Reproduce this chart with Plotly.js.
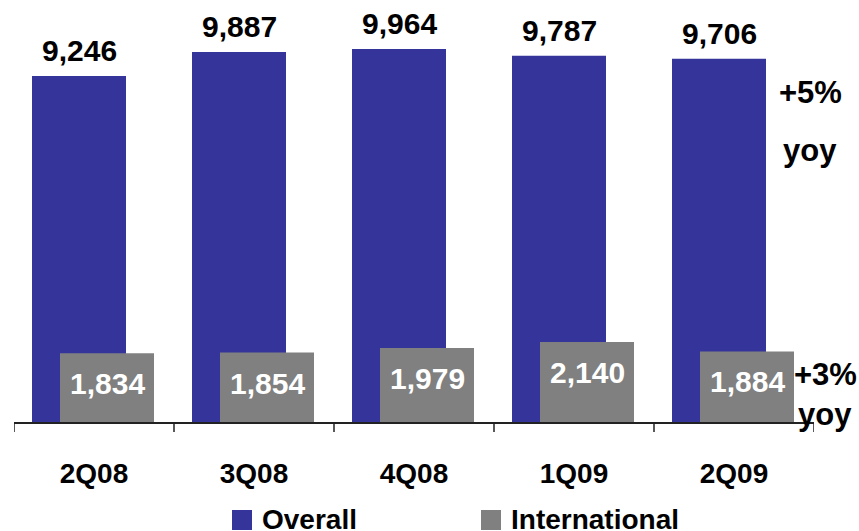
<!DOCTYPE html>
<html>
<head>
<meta charset="utf-8">
<script src="https://cdn.plot.ly/plotly-3.0.1.min.js"></script>
<style>html,body{margin:0;padding:0;background:#fff;}#chart{width:859px;height:531px;}</style>
</head>
<body>
<div id="chart"></div>
<script>
const categories = ["2Q08", "3Q08", "4Q08", "1Q09", "2Q09"];
const overall = [9246, 9887, 9964, 9787, 9706];
const international = [1834, 1854, 1979, 2140, 1884];
const overallLabels = ["9,246", "9,887", "9,964", "9,787", "9,706"];
const intlLabels = ["1,834", "1,854", "1,979", "2,140", "1,884"];
const seriesNames = ["Overall", "International"];
const sideNotes = ["+5%", "yoy", "+3%", "yoy"];

const BLUE = "#35349A";
const GRAY = "#808080";
const FONT = "Liberation Sans, Arial, sans-serif";
const W = 0.5875;
const blueOff = -0.3875, grayOff = -0.2125;
const px = v => (v - 14) / 800;
const py = v => (422 - v) / 422;

const idx = categories.map((c, i) => i);

const traces = [
  { type: "bar", x: idx, y: overall, name: seriesNames[0], width: W, offset: blueOff,
    marker: { color: BLUE, line: { width: 0 } }, hoverinfo: "skip" },
  { type: "bar", x: idx, y: international, name: seriesNames[1], width: W, offset: grayOff,
    marker: { color: GRAY, line: { width: 0 } }, hoverinfo: "skip" }
];

const annotations = [];
idx.forEach(i => {
  annotations.push({ x: i + blueOff + W / 2, y: overall[i], xref: "x", yref: "y",
    text: "<b>" + overallLabels[i] + "</b>", showarrow: false, yanchor: "bottom", yshift: 7,
    font: { family: FONT, size: 30, color: "#000" } });
  annotations.push({ x: i + grayOff + W / 2, y: international[i], xref: "x", yref: "y",
    text: "<b>" + intlLabels[i] + "</b>", showarrow: false, yanchor: "top", yshift: -12,
    font: { family: FONT, size: 30, color: "#fff" } });
});
const notePos = [[810, 92], [810, 150], [825, 374], [825, 414]];
sideNotes.forEach((t, k) => {
  annotations.push({ x: px(notePos[k][0]), y: py(notePos[k][1]), xref: "paper", yref: "paper",
    text: "<b>" + t + "</b>", showarrow: false, xanchor: "center", yanchor: "middle",
    font: { family: FONT, size: 31, color: "#000" } });
});
const legX = [[232, 260], [481, 509]];
const legColors = [BLUE, GRAY];
const shapes = [];
seriesNames.forEach((n, k) => {
  shapes.push({ type: "rect", xref: "paper", yref: "paper", x0: px(legX[k][0]), x1: px(legX[k][0] + 20),
    y0: py(530), y1: py(510), fillcolor: legColors[k], line: { width: 0 } });
  annotations.push({ x: px(legX[k][1]), y: py(519), xref: "paper", yref: "paper",
    text: "<b>" + n + "</b>", showarrow: false, xanchor: "left", yanchor: "middle",
    font: { family: FONT, size: 28, color: "#000" } });
});

const layout = {
  width: 859, height: 531,
  margin: { l: 14, r: 45, t: 0, b: 109 },
  paper_bgcolor: "#fff", plot_bgcolor: "#fff",
  barmode: "overlay",
  showlegend: false,
  xaxis: {
    type: "linear", range: [-0.5, 4.5], tickmode: "array", tickvals: idx, ticktext: categories,
    showgrid: false, zeroline: false, showline: true, linecolor: "#222", linewidth: 1.5,
    ticks: "", ticklabelstandoff: 26,
    tickfont: { family: FONT, size: 28, color: "#000", weight: "bold" },
    fixedrange: true
  },
  yaxis: { range: [0, 422 / 0.03743], visible: false, fixedrange: true },
  shapes: shapes.concat([-0.5, 0.5, 1.5, 2.5, 3.5, 4.5].map(b => ({
    type: "line", xref: "x", yref: "paper", x0: b, x1: b, y0: 0, y1: py(432),
    line: { color: "#222", width: 1.5 } }))),
  annotations: annotations
};

Plotly.newPlot("chart", traces, layout, { displayModeBar: false, staticPlot: true });
</script>
</body>
</html>
